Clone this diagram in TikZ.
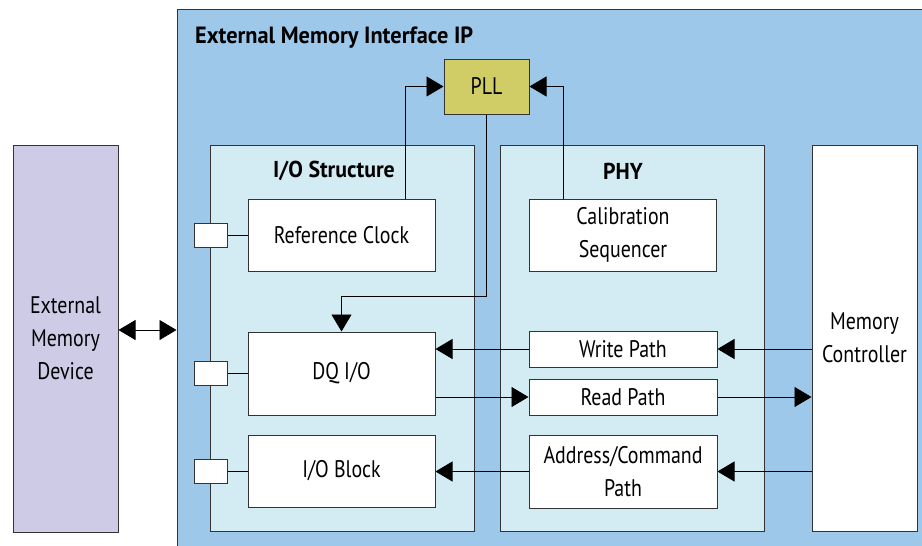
\documentclass[tikz,border=0pt]{standalone}
\usepackage{fontspec}
\setmainfont{PT Sans}[FakeStretch=0.83, BoldFeatures={FakeStretch=0.95}]
\usetikzlibrary{arrows.meta,calc}
\definecolor{outerblue}{HTML}{9DC8E9}
\definecolor{innerblue}{HTML}{D3ECF4}
\definecolor{lavender}{HTML}{CECBE7}
\definecolor{pllcol}{HTML}{D0CC66}
\definecolor{edge}{HTML}{333333}
\tikzset{
  box/.style={draw=edge, line width=1pt, fill=white, inner sep=0pt, align=center, font=\fontsize{24}{33}\selectfont},
  region/.style={draw=edge, line width=1pt, fill=innerblue, inner sep=0pt},
  pad/.style={draw=edge, line width=1pt, fill=white, inner sep=0pt, minimum width=33pt, minimum height=24pt},
  arr/.style={draw=black, line width=0.8pt, -{Triangle[length=17pt,width=20pt]}},
  dbl/.style={draw=black, line width=0.8pt, {Triangle[length=17pt,width=20pt]}-{Triangle[length=17pt,width=20pt]}},
  wire/.style={draw=black, line width=0.8pt},
  lbl/.style={font=\bfseries\fontsize{23.5}{26}\selectfont, inner sep=0pt},
  sublbl/.style={font=\bfseries\fontsize{23}{26}\selectfont, inner sep=0pt}
}
\begin{document}
\begin{tikzpicture}[x=1pt,y=-1pt]
\useasboundingbox (0,0) rectangle (922,546);
\clip (0,0) rectangle (922,546);
% outer IP region
\node[draw=edge, line width=1pt, fill=outerblue, minimum width=753pt, minimum height=551pt, inner sep=0pt] (outer) at (553.5,284.5) {};
\node[lbl, anchor=west] (title) at (195,38) {External Memory Interface IP};
% external memory device
\node[box, fill=lavender, minimum width=105pt, minimum height=387pt] (emd) at (65.5,338.5) {External\\Memory\\Device};
% I/O structure and PHY regions
\node[region, minimum width=264pt, minimum height=386pt] (ios) at (342,338) {};
\node[sublbl] (iostitle) at (334,171) {I/O Structure};
\node[region, minimum width=264pt, minimum height=386pt] (phy) at (632,338) {};
\node[sublbl] (phytitle) at (623,171) {PHY};
% memory controller
\node[box, minimum width=105pt, minimum height=386pt] (mc) at (864.5,338) {};
\node[font=\fontsize{24}{33}\selectfont, align=center, inner sep=0pt] (mctext) at (864.5,338) {Memory\\Controller};
% PLL
\node[box, fill=pllcol, minimum width=85pt, minimum height=55pt] (pll) at (486.5,86.5) {PLL};
% I/O structure blocks
\node[box, minimum width=187pt, minimum height=72pt] (ref) at (341.5,235) {Reference Clock};
\node[box, minimum width=187pt, minimum height=83pt] (dq) at (341.5,373.5) {DQ I/O};
\node[box, minimum width=187pt, minimum height=72pt] (iob) at (341.5,471) {I/O Block};
% PHY blocks
\node[box, minimum width=187pt, minimum height=72pt] (cal) at (623,235) {Calibration\\Sequencer};
\node[box, minimum width=188pt, minimum height=36pt] (wp) at (623,349) {Write Path};
\node[box, minimum width=188pt, minimum height=36pt] (rp) at (623,397) {Read Path};
\node[box, minimum width=188pt, minimum height=73pt] (ac) at (623,471.5) {Address/Command\\Path};
% pads
\node[pad] (p1) at (210.5,235) {};
\node[pad] (p2) at (210.5,373.5) {};
\node[pad] (p3) at (210.5,471) {};
\draw[wire] (p1.east) -- (p1.east -| ref.west);
\draw[wire] (p2.east) -- (p2.east -| dq.west);
\draw[wire] (p3.east) -- (p3.east -| iob.west);
% clock connections
\draw[arr] ([xshift=63.5pt]ref.north) |- (pll.west);
\draw[arr] ([xshift=-60pt]cal.north) |- (pll.east);
\draw[arr] (pll.south) |- ($(dq.north)+(0,-35)$) -- (dq.north);
% data paths
\draw[arr] (wp.west) -- (wp.west -| dq.east);
\draw[arr] (mc.west |- wp.east) -- (wp.east);
\draw[arr] (dq.east |- rp.west) -- (rp.west);
\draw[arr] (rp.east) -- (rp.east -| mc.west);
\draw[arr] (mc.west |- ac.east) -- (ac.east);
\draw[arr] (ac.west) -- (ac.west -| iob.east);
% external link
\draw[dbl] ([yshift=8.5pt]emd.east) -- ([yshift=8.5pt]emd.east -| outer.west);
\end{tikzpicture}
\end{document}
